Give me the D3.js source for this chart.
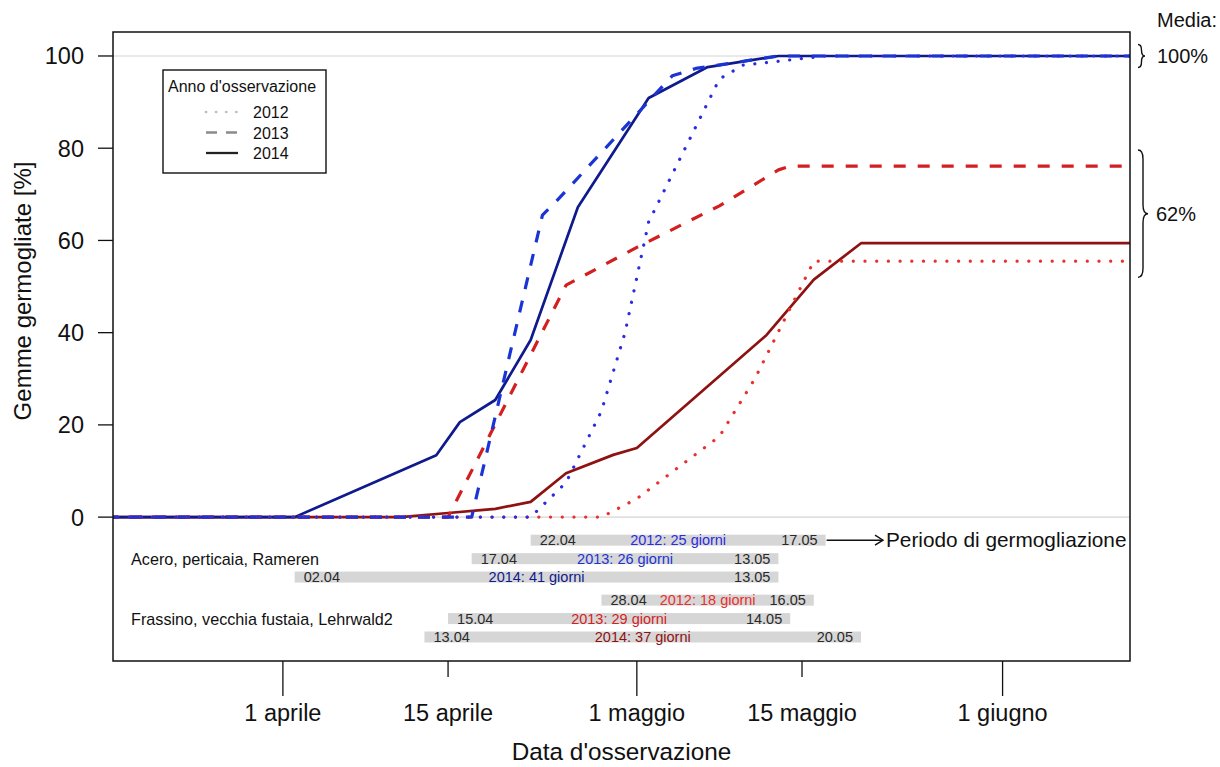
<!DOCTYPE html>
<html>
<head>
<meta charset="utf-8">
<script src="https://cdn.jsdelivr.net/npm/d3@7"></script>
<style>
  html, body { margin: 0; padding: 0; background: #fff; }
  svg { display: block; font-family: "Liberation Sans", Arial, Helvetica, sans-serif; }
</style>
</head>
<body>
<svg id="chart" width="1220" height="767"></svg>
<script>
// ---------------- DATA ----------------
// dates as "DD.MM", values in % of germinated buds
const aceroDates2012 = ["17.03","22.04","25.04","28.04","30.04","02.05","08.05","10.05","17.05","12.06"];
const aceroValues2012 = [0, 0, 7.5, 23, 40, 64, 95, 98, 100, 100];
const aceroDates2013 = ["17.03","17.04","23.04","24.04","04.05","06.05","13.05","12.06"];
const aceroValues2013 = [0, 0, 65.5, 68, 95.7, 97.3, 100, 100];
const aceroDates2014 = ["17.03","02.04","14.04","16.04","19.04","22.04","26.04","02.05","07.05","13.05","12.06"];
const aceroValues2014 = [0, 0, 13.4, 20.6, 25.4, 38.4, 67.2, 90.9, 97.6, 100, 100];

const frassinoDates2012 = ["17.03","28.04","01.05","08.05","11.05","16.05","12.06"];
const frassinoValues2012 = [0, 0, 4, 17.5, 30, 55.5, 55.5];
const frassinoDates2013 = ["17.03","15.04","25.04","01.05","08.05","13.05","14.05","12.06"];
const frassinoValues2013 = [0, 0, 50.3, 58.5, 67.5, 75.3, 76.1, 76.1];
const frassinoDates2014 = ["17.03","11.04","15.04","19.04","22.04","25.04","29.04","01.05","12.05","16.05","20.05","12.06"];
const frassinoValues2014 = [0, 0, 0.9, 1.8, 3.3, 9.5, 13.5, 15, 39.5, 51.5, 59.4, 59.4];

// budburst periods
const periodSpecies = ["Acero","Acero","Acero","Frassino","Frassino","Frassino"];
const periodYears = [2012, 2013, 2014, 2012, 2013, 2014];
const periodStart = ["22.04","17.04","02.04","28.04","15.04","13.04"];
const periodEnd = ["17.05","13.05","13.05","16.05","14.05","20.05"];
const periodDays = [25, 26, 41, 18, 29, 37];
const periodRowValue = [-5, -9, -13, -18, -22, -26];

const speciesLabels = ["Acero, perticaia, Rameren", "Frassino, vecchia fustaia, Lehrwald2"];
const speciesLabelValue = [-9, -22];

const xTickDates = ["01.04","15.04","01.05","15.05","01.06"];
const xTickLabels = ["1 aprile","15 aprile","1 maggio","15 maggio","1 giugno"];
const xTickMajor = [true, false, true, false, true];
const yTicks = [0, 20, 40, 60, 80, 100];
const legendYears = ["2012","2013","2014"];
const meanLabels = ["100%", "62%"];

// ---------------- HELPERS ----------------
function dayOf(s) {
  const [dd, mm] = s.split(".").map(Number);
  return (Date.UTC(2014, mm - 1, dd) - Date.UTC(2014, 3, 1)) / 864e5;
}

const colors = {
  Acero: { 2012: "#2b2be0", 2013: "#1b34d4", 2014: "#0f1a8c" },
  Frassino: { 2012: "#e8302c", 2013: "#d31f1f", 2014: "#8e1212" }
};
const styles = {
  2012: { dash: "0.1,11.6", cap: "round", width: 3.2 },
  2013: { dash: "12,12", cap: "butt", width: 3.2 },
  2014: { dash: null, cap: "butt", width: 2.7 }
};

// ---------------- LAYOUT ----------------
const svg = d3.select("#chart");
const box = { left: 113, right: 1130, top: 32, bottom: 661 };

const x = d3.scaleLinear().domain([-14.4, 71.8]).range([box.left, box.right]);
const y = d3.scaleLinear().domain([-31.2, 105.2]).range([box.bottom, box.top]);

svg.append("defs").append("clipPath").attr("id", "clip")
  .append("rect").attr("x", box.left).attr("y", box.top)
  .attr("width", box.right - box.left).attr("height", box.bottom - box.top);

// reference lines at 0 and 100
svg.append("g").selectAll("line").data([0, 100]).join("line")
  .attr("x1", box.left).attr("x2", box.right)
  .attr("y1", d => y(d)).attr("y2", d => y(d))
  .attr("stroke", "#d4d4d4").attr("stroke-width", 1.2);

// ---------------- CURVES ----------------
const series = [
  { sp: "Frassino", yr: 2014, dates: frassinoDates2014, vals: frassinoValues2014 },
  { sp: "Acero", yr: 2014, dates: aceroDates2014, vals: aceroValues2014 },
  { sp: "Frassino", yr: 2013, dates: frassinoDates2013, vals: frassinoValues2013 },
  { sp: "Acero", yr: 2013, dates: aceroDates2013, vals: aceroValues2013 },
  { sp: "Frassino", yr: 2012, dates: frassinoDates2012, vals: frassinoValues2012 },
  { sp: "Acero", yr: 2012, dates: aceroDates2012, vals: aceroValues2012 }
];
const line = d3.line().x(d => x(d[0])).y(d => y(d[1]));
const gLines = svg.append("g").attr("clip-path", "url(#clip)");
series.forEach(s => {
  const pts = s.dates.map((dt, i) => [dayOf(dt), s.vals[i]]);
  const st = styles[s.yr];
  gLines.append("path").attr("d", line(pts))
    .attr("fill", "none")
    .attr("stroke", colors[s.sp][s.yr])
    .attr("stroke-width", st.width)
    .attr("stroke-linecap", st.cap)
    .attr("stroke-linejoin", "round")
    .attr("stroke-dasharray", st.dash);
});

// ---------------- PERIOD BARS ----------------
const gBars = svg.append("g");
periodStart.forEach((ps, i) => {
  const x0 = x(dayOf(ps)), x1 = x(dayOf(periodEnd[i])), yc = y(periodRowValue[i]);
  gBars.append("rect").attr("x", x0).attr("y", yc - 5.5)
    .attr("width", x1 - x0).attr("height", 11).attr("fill", "#d6d6d6");
  gBars.append("text").attr("x", x0 + 9).attr("y", yc + 5)
    .attr("font-size", 14.5).attr("fill", "#2a2a2a").text(ps);
  gBars.append("text").attr("x", x1 - 8).attr("y", yc + 5)
    .attr("text-anchor", "end").attr("font-size", 14.5).attr("fill", "#2a2a2a").text(periodEnd[i]);
  gBars.append("text").attr("x", (x0 + x1) / 2).attr("y", yc + 5)
    .attr("text-anchor", "middle").attr("font-size", 14.5)
    .attr("fill", colors[periodSpecies[i]][periodYears[i]])
    .text(periodYears[i] + ": " + periodDays[i] + " giorni");
});
speciesLabels.forEach((t, i) => {
  svg.append("text").attr("x", 131).attr("y", y(speciesLabelValue[i]) + 6)
    .attr("font-size", 16.2).attr("fill", "#111").text(t);
});

// arrow + label
{
  const ax0 = x(dayOf(periodEnd[0])) + 1, ax1 = 883, ay = y(periodRowValue[0]);
  const g = svg.append("g").attr("stroke", "#111").attr("stroke-width", 1.4).attr("fill", "none");
  g.append("line").attr("x1", ax0).attr("x2", ax1).attr("y1", ay).attr("y2", ay);
  g.append("path").attr("d", `M${ax1 - 8},${ay - 5}L${ax1},${ay}L${ax1 - 8},${ay + 5}`);
  svg.append("text").attr("x", 886).attr("y", ay + 7).attr("font-size", 20.8)
    .attr("fill", "#111").text("Periodo di germogliazione");
}

// ---------------- AXES ----------------
// box
svg.append("rect").attr("x", box.left).attr("y", box.top)
  .attr("width", box.right - box.left).attr("height", box.bottom - box.top)
  .attr("fill", "none").attr("stroke", "#111").attr("stroke-width", 1.5);

// y axis
const gy = svg.append("g");
yTicks.forEach(v => {
  gy.append("line").attr("x1", 98).attr("x2", box.left).attr("y1", y(v)).attr("y2", y(v))
    .attr("stroke", "#111").attr("stroke-width", 1.3);
  gy.append("text").attr("x", 84).attr("y", y(v) + 8.5).attr("text-anchor", "end")
    .attr("font-size", 23.5).attr("fill", "#111").text(v);
});
svg.append("text").attr("transform", "translate(31,291) rotate(-90)")
  .attr("text-anchor", "middle").attr("font-size", 24).attr("fill", "#111")
  .text("Gemme germogliate [%]");

// x axis
const gx = svg.append("g");
xTickDates.forEach((dt, i) => {
  const xp = x(dayOf(dt));
  gx.append("line").attr("x1", xp).attr("x2", xp)
    .attr("y1", box.bottom).attr("y2", box.bottom + (xTickMajor[i] ? 35 : 16))
    .attr("stroke", "#111").attr("stroke-width", 1.3);
  gx.append("text").attr("x", xp).attr("y", 721).attr("text-anchor", "middle")
    .attr("font-size", 23.5).attr("fill", "#111").text(xTickLabels[i]);
});
svg.append("text").attr("x", (box.left + box.right) / 2).attr("y", 760)
  .attr("text-anchor", "middle").attr("font-size", 24.3).attr("fill", "#111")
  .text("Data d'osservazione");

// ---------------- LEGEND ----------------
const lg = svg.append("g");
lg.append("rect").attr("x", 163).attr("y", 70).attr("width", 163).attr("height", 103)
  .attr("fill", "#fff").attr("stroke", "#111").attr("stroke-width", 1.4);
lg.append("text").attr("x", 168).attr("y", 92).attr("font-size", 16).attr("fill", "#111")
  .text("Anno d'osservazione");
const legendColors = ["#bdbdbd", "#8a8a8a", "#222"];
legendYears.forEach((yr, i) => {
  const ly = 112 + i * 20.5;
  const st = styles[yr];
  lg.append("line").attr("x1", 206).attr("x2", 238).attr("y1", ly).attr("y2", ly)
    .attr("stroke", legendColors[i]).attr("stroke-width", st.width * 0.85)
    .attr("stroke-linecap", st.cap)
    .attr("stroke-dasharray", yr === "2012" ? "0.1,10" : (yr === "2013" ? "11,9" : null));
  lg.append("text").attr("x", 253).attr("y", ly + 6).attr("font-size", 16).attr("fill", "#111").text(yr);
});

// ---------------- MEANS (braces) ----------------
function bracePath(x0, y0, y1, w) {
  const ym = (y0 + y1) / 2, r = Math.min(w * 0.9, (y1 - y0) / 4), xm = x0 + w / 2;
  return `M${x0},${y0}Q${xm},${y0} ${xm},${y0 + r}L${xm},${ym - r}Q${xm},${ym} ${x0 + w},${ym}` +
         `Q${xm},${ym} ${xm},${ym + r}L${xm},${y1 - r}Q${xm},${y1} ${x0},${y1}`;
}
svg.append("text").attr("x", 1157).attr("y", 27).attr("font-size", 20).attr("fill", "#111").text("Media:");
svg.append("path").attr("d", bracePath(1138, y(102.5), y(97.5), 7))
  .attr("fill", "none").attr("stroke", "#111").attr("stroke-width", 1.4);
svg.append("text").attr("x", 1157).attr("y", y(100) + 7).attr("font-size", 20).attr("fill", "#111").text(meanLabels[0]);
svg.append("path").attr("d", bracePath(1138, y(79.6), y(52), 10))
  .attr("fill", "none").attr("stroke", "#111").attr("stroke-width", 1.4);
svg.append("text").attr("x", 1156).attr("y", y(65.8) + 7).attr("font-size", 20).attr("fill", "#111").text(meanLabels[1]);
</script>
</body>
</html>
